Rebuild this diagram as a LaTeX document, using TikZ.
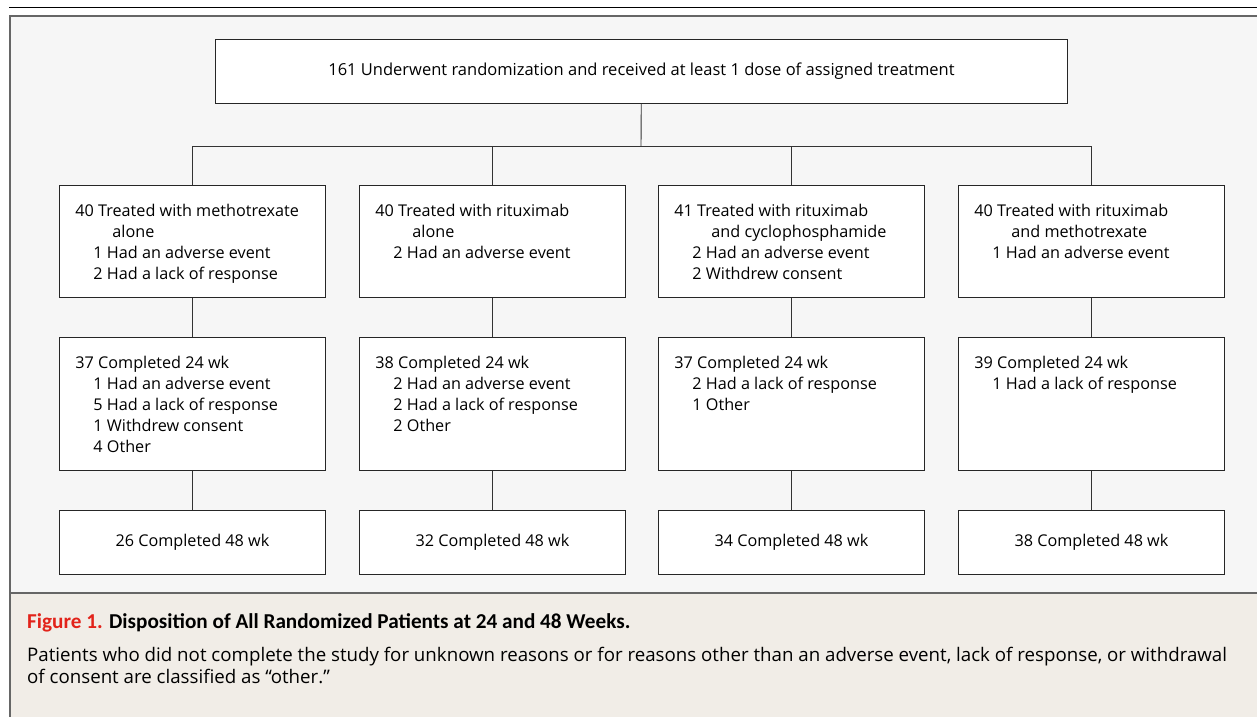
\documentclass[tikz,border=0pt]{standalone}
\usepackage{fontspec}
\setmainfont{Open Sans}
\newfontfamily\titlefont{Carlito}
\usepackage{tikz}
\usetikzlibrary{positioning}
\usetikzlibrary{calc}

\definecolor{panelgray}{HTML}{F6F6F6}
\definecolor{capbeige}{HTML}{F1EDE7}
\definecolor{framegray}{HTML}{666666}
\definecolor{figred}{HTML}{E2231A}

\newcommand{\armtext}[2]{\parbox[c][#1][t]{234pt}{\raggedright\rule{0pt}{31pt}#2}}
\newcommand{\subi}{\hspace*{18pt}}
\newcommand{\cont}{\hspace*{37pt}}

\tikzset{
  armbox/.style={draw=black!85, fill=white, line width=0.9pt, anchor=north west,
    inner xsep=16pt, inner ysep=0pt, font=\fontsize{16.2}{21}\selectfont},
  endbox/.style={armbox, minimum width=266pt, minimum height=64pt, inner xsep=0pt},
  link/.style={draw=black!80, line width=0.9pt}
}

\begin{document}
\begin{tikzpicture}[x=1pt, y=-1pt]
    \useasboundingbox (0,0) rectangle (1257,717);
    % frame and caption panel
    \fill[panelgray] (10,16) rectangle (1257,593);
    \fill[capbeige] (10,593) rectangle (1257,717);
    \draw[line width=1.5pt] (9,7.5) -- (1257,7.5);
    \draw[framegray, line width=2pt] (1257,16) -- (10,16) -- (10,717);
    \draw[framegray, line width=2pt] (10,593) -- (1257,593);

    \node[endbox, minimum width=852pt, font=\fontsize{16.5}{21}\selectfont] (top) at (215,39)
      {161 Underwent randomization and received at least 1 dose of assigned treatment};

    \node[armbox] (a1) at (59,185) {\armtext{112pt}{40 Treated with methotrexate\\
      \cont alone\\ \subi 1 Had an adverse event\\ \subi 2 Had a lack of response}};
    \node[armbox] (a2) at (359,185) {\armtext{112pt}{40 Treated with rituximab\\
      \cont alone\\ \subi 2 Had an adverse event}};
    \node[armbox] (a3) at (658,185) {\armtext{112pt}{41 Treated with rituximab\\
      \cont and cyclophosphamide\\ \subi 2 Had an adverse event\\ \subi 2 Withdrew consent}};
    \node[armbox] (a4) at (958,185) {\armtext{112pt}{40 Treated with rituximab\\
      \cont and methotrexate\\ \subi 1 Had an adverse event}};

    \node[armbox] (b1) at (59,337) {\armtext{133pt}{37 Completed 24 wk\\
      \subi 1 Had an adverse event\\ \subi 5 Had a lack of response\\
      \subi 1 Withdrew consent\\ \subi 4 Other}};
    \node[armbox] (b2) at (359,337) {\armtext{133pt}{38 Completed 24 wk\\
      \subi 2 Had an adverse event\\ \subi 2 Had a lack of response\\ \subi 2 Other}};
    \node[armbox] (b3) at (658,337) {\armtext{133pt}{37 Completed 24 wk\\
      \subi 2 Had a lack of response\\ \subi 1 Other}};
    \node[armbox] (b4) at (958,337) {\armtext{133pt}{39 Completed 24 wk\\
      \subi 1 Had a lack of response}};

    \node[endbox] (c1) at (59,510) {26 Completed 48 wk};
    \node[endbox] (c2) at (359,510) {32 Completed 48 wk};
    \node[endbox] (c3) at (658,510) {34 Completed 48 wk};
    \node[endbox] (c4) at (958,510) {38 Completed 48 wk};

    \coordinate (fork) at (641,146);
    \draw[link] (top) -- (fork);
    \foreach \i in {a1, a2, a3, a4}
      \draw[link] (fork) -| (\i.north);
    \foreach \i/\j in {a1/b1, a2/b2, a3/b3, a4/b4, b1/c1, b2/c2, b3/c3, b4/c4}
      \draw[link] (\i) -- (\j);

    \node[anchor=north west, inner sep=0pt, align=left, font=\fontsize{18.7}{22}\selectfont] (cap) at (27,613)
      {{\titlefont\fontsize{21.2}{22}\selectfont\bfseries\textcolor{figred}{Figure 1.} Disposition of All Randomized Patients at 24 and 48 Weeks.}\\[11pt]
       Patients who did not complete the study for unknown reasons or for reasons other than an adverse event, lack of response, or withdrawal\\
       of consent are classified as \textquotedblleft other.\textquotedblright};
\end{tikzpicture}
\end{document}
